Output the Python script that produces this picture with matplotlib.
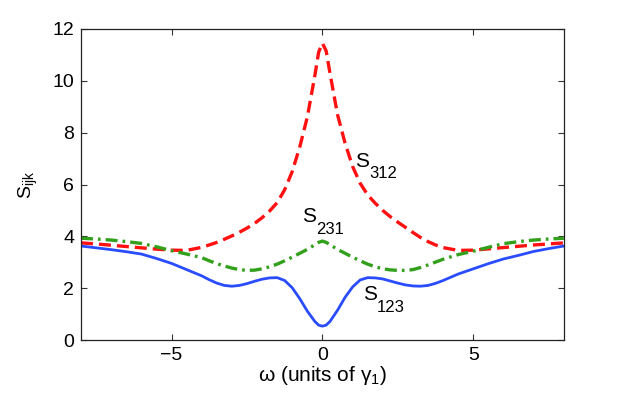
import matplotlib
matplotlib.use('Agg')
import matplotlib.pyplot as plt

plt.rcParams['font.family'] = ['Liberation Sans', 'DejaVu Sans']
plt.rcParams['mathtext.default'] = 'regular'

# omega (units of gamma_1)
omega = [-8, -7.5, -7, -6.5, -6, -5.5, -5, -4.5,
         -4, -3.75, -3.5, -3.25, -3, -2.75, -2.5, -2.25, -2, -1.75, -1.5, -1.25, -1,
         -0.75, -0.5, -0.25, -0.125, 0, 0.125, 0.25, 0.5, 0.75,
         1, 1.25, 1.5, 1.75, 2, 2.25, 2.5, 2.75, 3, 3.25, 3.5, 3.75, 4,
         4.5, 5, 5.5, 6, 6.5, 7, 7.5, 8]

s312 = [3.75, 3.71, 3.66, 3.61, 3.56, 3.51, 3.47, 3.46,
        3.58, 3.67, 3.77, 3.89, 4.02, 4.16, 4.32, 4.5, 4.72, 4.98, 5.3, 5.8, 6.5,
        7.45, 8.6, 10.2, 11.1, 11.45, 11.15, 10.3, 8.7, 7.6,
        6.7, 6.05, 5.6, 5.28, 5.0, 4.76, 4.55, 4.35, 4.15, 3.96, 3.8, 3.67, 3.57,
        3.46, 3.47, 3.52, 3.57, 3.62, 3.67, 3.71, 3.75]

s231 = [3.93, 3.9, 3.86, 3.8, 3.73, 3.6, 3.45, 3.32,
        3.18, 3.06, 2.95, 2.86, 2.78, 2.72, 2.69, 2.7, 2.75, 2.83, 2.93, 3.06, 3.2,
        3.35, 3.5, 3.68, 3.77, 3.82, 3.77, 3.68, 3.5, 3.35,
        3.2, 3.06, 2.93, 2.83, 2.75, 2.71, 2.69, 2.69, 2.72, 2.8, 2.9, 3.01, 3.12,
        3.3, 3.43, 3.58, 3.72, 3.8, 3.86, 3.9, 3.93]

s123 = [3.63, 3.56, 3.49, 3.41, 3.32, 3.15, 2.96, 2.72,
        2.48, 2.33, 2.2, 2.11, 2.08, 2.11, 2.18, 2.27, 2.35, 2.4, 2.41, 2.3, 2.02,
        1.6, 1.12, 0.72, 0.58, 0.54, 0.58, 0.72, 1.15, 1.65,
        2.05, 2.32, 2.41, 2.4, 2.36, 2.28, 2.2, 2.13, 2.09, 2.08, 2.11, 2.19, 2.3,
        2.55, 2.75, 2.95, 3.13, 3.27, 3.42, 3.53, 3.63]

fig = plt.figure(figsize=(6.23, 3.96), dpi=100)
ax = fig.add_axes([0.130, 0.141, 0.775, 0.786])

ax.plot(omega, s312, color='#ff1111', lw=2.4, dashes=(3.6, 1.8))
ax.plot(omega, s231, color='#33a01c', lw=2.4, dashes=(3.6, 1.5, 0.8, 1.5))
ax.plot(omega, s123, color='#2a4cff', lw=2.0)

ax.set_xlim(-8, 8)
ax.set_ylim(0, 12)
ax.set_xticks([-5, 0, 5])
ax.set_xticklabels(['\u22125', '0', '5'])
ax.set_yticks([0, 2, 4, 6, 8, 10, 12])
ax.tick_params(direction='in', length=4, width=0.8, top=True, right=True,
               labelsize=14, color='#333333', pad=5)
for sp in ax.spines.values():
    sp.set_linewidth(0.9)
    sp.set_color('#222222')

ax.set_xlabel('\u03c9 (units of \u03b3$_1$)', fontsize=15, labelpad=0)
ax.set_ylabel('S$_{ijk}$', fontsize=14, labelpad=9)


def curve_label(x, y, sub, dy):
    ax.annotate('S', xy=(x, y), xytext=(0, 0), textcoords='offset points',
                fontsize=15, va='baseline', ha='left')
    ax.annotate(sub, xy=(x, y), xytext=(10.0, -dy), textcoords='offset points',
                fontsize=12, va='baseline', ha='left')


curve_label(1.08, 6.69, '312', 8.4)
curve_label(-0.66, 4.56, '231', 9.0)
curve_label(1.35, 1.54, '123', 8.6)

fig.savefig('out.png', dpi=100)
